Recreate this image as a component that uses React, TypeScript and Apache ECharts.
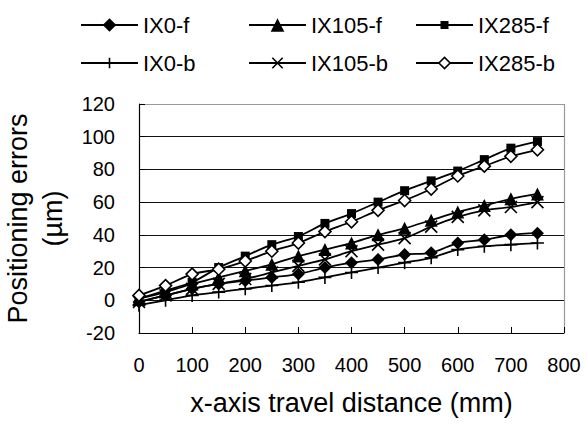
import React, { useEffect, useRef } from "react";
import * as echarts from "echarts";

const xValues = [0, 50, 100, 150, 200, 250, 300, 350, 400, 450, 500, 550, 600, 650, 700, 750];
const ix0f = [-1, 3, 7, 10, 12, 14, 16, 20, 23, 25, 28, 29, 35, 37, 40, 41];
const ix105f = [1, 5, 10, 14, 18, 22, 27, 31, 35, 40, 44, 49, 54, 58, 62, 65];
const ix285f = [1, 6, 11, 20, 27, 34, 39, 47, 53, 60, 67, 73, 79, 86, 93, 97];
const ix0b = [-3, 0, 3, 5, 7, 9, 11, 14, 17, 20, 23, 26, 31, 33, 34, 35];
const ix105b = [-1, 3, 7, 10, 13, 17, 21, 25, 30, 34, 38, 45, 51, 55, 57, 60];
const ix285b = [3, 9, 16, 19, 24, 30, 35, 42, 48, 55, 61, 68, 76, 82, 88, 92];
const seriesNames = ["IX0-f", "IX105-f", "IX285-f", "IX0-b", "IX105-b", "IX285-b"];
const yTicks = [-20, 0, 20, 40, 60, 80, 100, 120];
const xTicks = [0, 100, 200, 300, 400, 500, 600, 700, 800];

const FONT = "'Liberation Sans', Arial, sans-serif";
const PLUS = "path://M0,6L12,6M6,0L6,12";
const CROSS = "path://M0,0L12,12M12,0L0,12";

export default function App() {
  const ref = useRef<HTMLDivElement>(null);
  useEffect(() => {
    if (!ref.current) return;
    const chart = echarts.init(ref.current, undefined, { renderer: "svg" });
    const pair = (arr: number[]) => arr.map((v, i) => [xValues[i], v]);
    const allData = [ix0f, ix105f, ix285f, ix0b, ix105b, ix285b];
    const symbols = ["diamond", "triangle", "rect", PLUS, CROSS, "diamond"];
    const sizes = [13, 13, 9, 13, 12, 12];
    const fills = ["#000", "#000", "#000", "none", "none", "#fff"];
    const borders = [0, 0, 0, 1.6, 1.6, 1.6];
    const legendH = [17, 17, 10, 13, 13, 14];
    const legendLeft = [80, 248, 415, 80, 248, 415];
    const legendTop = [14, 14, 14, 52, 52, 52];

    const series = seriesNames.map((name, k) => ({
      name,
      type: "line",
      data: pair(allData[k]),
      smooth: 0.3,
      symbol: symbols[k],
      symbolSize: sizes[k],
      showAllSymbol: true,
      lineStyle: { color: "#000", width: 1.8 },
      itemStyle: {
        color: fills[k],
        borderColor: "#000",
        borderWidth: borders[k],
      },
      emphasis: { disabled: true },
    }));

    const legends = seriesNames.map((name, k) => ({
      data: [name],
      left: legendLeft[k],
      top: legendTop[k],
      padding: 0,
      itemWidth: 57,
      itemHeight: legendH[k],
      selectedMode: false,
      textStyle: { fontFamily: FONT, fontSize: 22, lineHeight: 22, color: "#000" },
      itemStyle: { borderWidth: borders[k] },
    }));

    const yColors = yTicks.map((v, i) =>
      i === 0 ? "rgba(0,0,0,0)" : i === yTicks.length - 1 ? "#999" : "#111"
    );
    const xColors = xTicks.map((v, i) => (i === xTicks.length - 1 ? "#999" : "rgba(0,0,0,0)"));

    chart.setOption({
      animation: false,
      backgroundColor: "#fff",
      textStyle: { fontFamily: FONT },
      legend: legends,
      grid: {
        left: 139,
        right: 23,
        top: 104,
        bottom: 93,
        containLabel: false,
        outerBoundsMode: "none",
      },
      xAxis: {
        type: "value",
        min: xTicks[0],
        max: xTicks[xTicks.length - 1],
        interval: 100,
        name: "x-axis travel distance (mm)",
        nameLocation: "middle",
        nameGap: 56,
        nameTextStyle: { fontFamily: FONT, fontSize: 27, color: "#000" },
        axisLine: { show: true, onZero: false, lineStyle: { color: "#000", width: 1.2 } },
        axisTick: { show: true, inside: true, length: 6, lineStyle: { color: "#000" } },
        axisLabel: { margin: 22, fontFamily: FONT, fontSize: 20, color: "#000" },
        splitLine: { show: true, lineStyle: { color: xColors, width: 1.2 } },
      },
      yAxis: {
        type: "value",
        min: yTicks[0],
        max: yTicks[yTicks.length - 1],
        interval: 20,
        name: "Positioning errors\n(µm)",
        nameLocation: "middle",
        nameRotate: 90,
        nameGap: 66,
        nameTextStyle: { fontFamily: FONT, fontSize: 27, lineHeight: 35, color: "#000", align: "center" },
        axisLine: { show: true, onZero: false, lineStyle: { color: "#000", width: 1.2 } },
        axisTick: { show: true, inside: true, length: 6, lineStyle: { color: "#000" } },
        axisLabel: { margin: 24, fontFamily: FONT, fontSize: 20, color: "#000" },
        splitLine: { show: true, lineStyle: { color: yColors, width: 1 } },
      },
      series,
    });
    return () => chart.dispose();
  }, []);
  return (
    <div
      ref={ref}
      style={{ position: "fixed", left: 0, top: 0, width: 587, height: 426, background: "#fff" }}
    />
  );
}
